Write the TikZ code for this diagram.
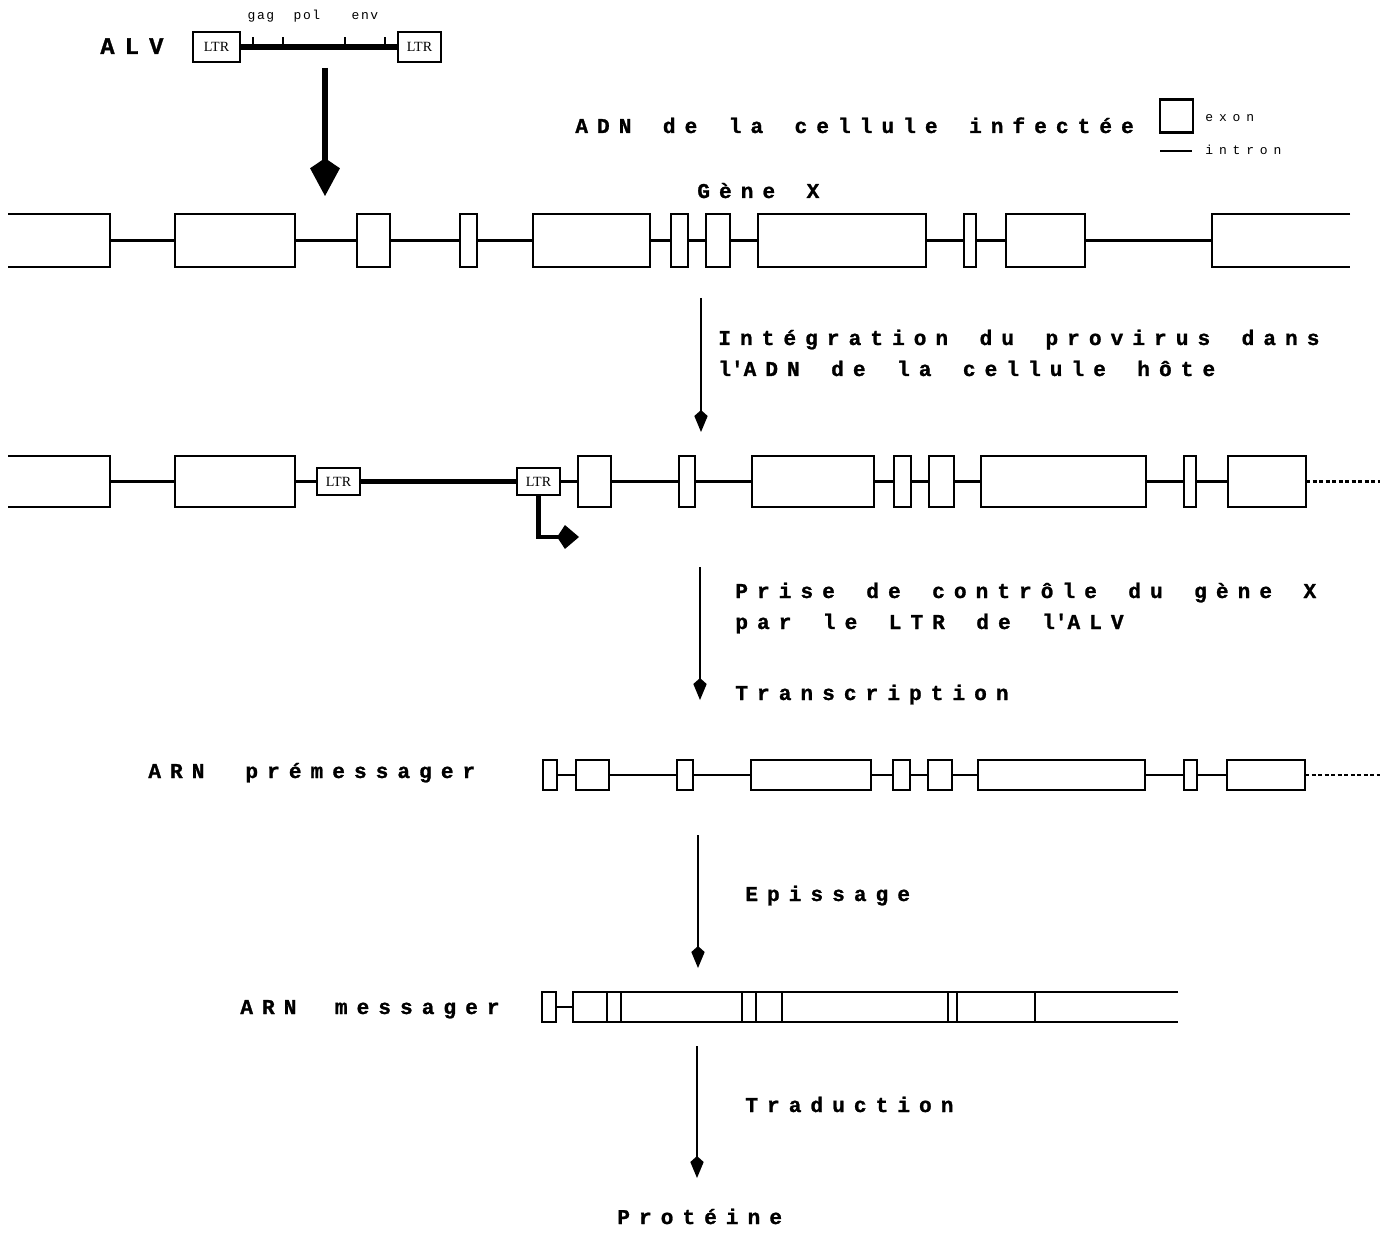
\documentclass[tikz,border=0pt]{standalone}
\usepackage{fontspec}
\usepackage{tikz}
\usetikzlibrary{positioning}
\usetikzlibrary{arrows.meta}
\newfontfamily\courgras{Liberation Mono Bold}[LetterSpace=43, WordSpace=1.45, FakeBold=1.2]
\newfontfamily\courfin{Liberation Mono}[LetterSpace=45]
\newfontfamily\courvir{Liberation Mono}[LetterSpace=12]
\newfontfamily\ltrserif{Liberation Serif}

\begin{document}
\begin{tikzpicture}[x=0.02cm, y=-0.02cm,
    exon/.style={draw, line width=1.6pt, inner sep=0pt, outer sep=0pt},
    bord/.style={line width=1.6pt},
    intron/.style={line width=1.3pt},
    virus/.style={line width=3.4pt},
    suite/.style={line width=1.3pt, dash pattern=on 2.5pt off 1.2pt},
    ltrbox/.style={draw, line width=1.3pt, inner sep=0pt, outer sep=0pt, font=\ltrserif\fontsize{8}{9}\selectfont},
    txt/.style={anchor=base west, inner sep=0pt, font=\courgras\fontsize{12}{13}\selectfont},
    petit/.style={anchor=base west, inner sep=0pt, font=\courfin\fontsize{7.4}{8}\selectfont},
    fleche/.style={line width=1.4pt, -{Kite[length=12.5pt, width=7.6pt, inset=3.4pt]}},
    grossefleche/.style={line width=3.8pt, -{Kite[length=21.5pt, width=17pt, inset=5.7pt]}},
    promo/.style={line width=2.8pt, -{Kite[length=12.5pt, width=13.6pt, inset=4.5pt]}}]
    \useasboundingbox (0,0) rectangle (1389,1236);

    \node[txt, font=\courgras\fontsize{13.5}{14}\selectfont] (alv) at (100,54) {ALV};
    \node[ltrbox, minimum width=47*0.02cm, minimum height=30*0.02cm] (av1) at (216.5,47) {LTR};
    \node[ltrbox, minimum width=43*0.02cm, minimum height=30*0.02cm] (av2) at (419.5,47) {LTR};
    \draw[virus] (av1.east) -- (av2.west);
    \foreach \t in {253,283,345,385}
        \draw[line width=1pt] (\t,46) -- (\t,37);
    \node[petit, anchor=base, font=\courvir\fontsize{7.4}{8}\selectfont] (gag) at (261,20) {gag};
    \node[petit, anchor=base, font=\courvir\fontsize{7.4}{8}\selectfont] (pol) at (307,20) {pol};
    \node[petit, anchor=base, font=\courvir\fontsize{7.4}{8}\selectfont] (env) at (365,20) {env};
    \coordinate (a0s) at (325,68);
    \coordinate (a0e) at (325,196);
    \draw[grossefleche] (a0s) -- (a0e);

    \node[txt] (titre) at (575,133) {ADN de la cellule infectée};
    \node[exon, minimum width=33*0.02cm, minimum height=33*0.02cm] (legexon) at (1176.5,116) {};
    \node[petit] (legexontxt) at (1205,122) {exon};
    \coordinate (legi1) at (1160,151);
    \coordinate (legi2) at (1192,151);
    \draw[intron] (legi1) -- (legi2);
    \node[petit] (legintrontxt) at (1205,155) {intron};
    \node[txt] (genex) at (697,198) {Gène X};

    \node[exon, draw=none, minimum width=102*0.02cm, minimum height=53*0.02cm] (g1) at (59,240.5) {};
    \foreach \i/\a/\b in {2/175/295, 3/357/390, 4/460/477, 5/533/650, 6/671/688, 7/706/730, 8/758/926, 9/964/976, 10/1006/1085}
        \node[exon, minimum width={(\b-\a)*0.02cm}, minimum height=53*0.02cm] (g\i) at ({(\a+\b)/2},240.5) {};
    \node[exon, draw=none, minimum width=138*0.02cm, minimum height=53*0.02cm] (g11) at (1281,240.5) {};
    \draw[bord] (g1.north west) -- (g1.north east) -- (g1.south east) -- (g1.south west);
    \draw[bord] (g11.north east) -- (g11.north west) -- (g11.south west) -- (g11.south east);
    \foreach \i [evaluate=\i as \j using int(\i+1)] in {1,...,10}
        \draw[intron] (g\i.east) -- (g\j.west);

    \coordinate (a1s) at (701,298);
    \coordinate (a1e) at (701,432);
    \draw[fleche] (a1s) -- (a1e);
    \node[txt] (integ1) at (718,345) {Intégration du provirus dans};
    \node[txt] (integ2) at (718,376) {l\textquotesingle ADN de la cellule hôte};

    \node[exon, draw=none, minimum width=102*0.02cm, minimum height=51*0.02cm] (p1) at (59,481.5) {};
    \node[exon, minimum width=120*0.02cm, minimum height=51*0.02cm] (p2) at (235,481.5) {};
    \node[ltrbox, minimum width=43*0.02cm, minimum height=27*0.02cm] (pl1) at (338.5,481.5) {LTR};
    \node[ltrbox, minimum width=43*0.02cm, minimum height=27*0.02cm] (pl2) at (538.5,481.5) {LTR};
    \foreach \i/\a/\b in {3/578/611, 4/679/695, 5/752/874, 6/894/911, 7/929/954, 8/981/1146, 9/1184/1196, 10/1228/1306}
        \node[exon, minimum width={(\b-\a)*0.02cm}, minimum height=51*0.02cm] (p\i) at ({(\a+\b)/2},481.5) {};
    \draw[bord] (p1.north west) -- (p1.north east) -- (p1.south east) -- (p1.south west);
    \draw[intron] (p1.east) -- (p2.west);
    \draw[intron] (p2.east) -- (pl1.west);
    \draw[virus] (pl1.east) -- (pl2.west);
    \draw[intron] (pl2.east) -- (p3.west);
    \foreach \i [evaluate=\i as \j using int(\i+1)] in {3,...,9}
        \draw[intron] (p\i.east) -- (p\j.west);
    \coordinate (pfin) at (1380,481.5);
    \draw[suite] (p10.east) -- (pfin);
    \coordinate (tss) at (579,537);
    \draw[promo] (pl2.south) |- (tss);

    \coordinate (a2s) at (700,567);
    \coordinate (a2e) at (700,700);
    \draw[fleche] (a2s) -- (a2e);
    \node[txt] (prise1) at (735,598) {Prise de contrôle du gène X};
    \node[txt] (prise2) at (735,629) {par le LTR de l\textquotesingle ALV};
    \node[txt] (transc) at (735,700) {Transcription};

    \node[txt] (premess) at (148,778) {ARN \hspace{0.19cm}prémessager};
    \foreach \i/\a/\b in {1/543/557, 2/576/609, 3/677/693, 4/751/871, 5/893/910, 6/928/952, 7/978/1145, 8/1184/1197, 9/1227/1305}
        \node[exon, minimum width={(\b-\a)*0.02cm}, minimum height=30*0.02cm] (m\i) at ({(\a+\b)/2},775) {};
    \foreach \i [evaluate=\i as \j using int(\i+1)] in {1,...,8}
        \draw[intron] (m\i.east) -- (m\j.west);
    \coordinate (mfin) at (1380,775);
    \draw[suite] (m9.east) -- (mfin);

    \coordinate (a3s) at (698,835);
    \coordinate (a3e) at (698,968);
    \draw[fleche] (a3s) -- (a3e);
    \node[txt] (episs) at (745,901) {Epissage};

    \node[txt] (mess) at (240,1014) {ARN \hspace{0.14cm}messager};
    \node[exon, minimum width=14*0.02cm, minimum height=30*0.02cm] (r0) at (549,1007) {};
    \node[exon, draw=none, minimum width=605*0.02cm, minimum height=30*0.02cm] (rband) at (875.5,1007) {};
    \draw[bord] (rband.north east) -- (rband.north west) -- (rband.south west) -- (rband.south east);
    \draw[intron] (r0.east) -- (rband.west);
    \foreach \s in {607,621,742,756,782,948,957,1035}
        \draw[bord] (\s,992) -- (\s,1022);

    \coordinate (a4s) at (697,1046);
    \coordinate (a4e) at (697,1178);
    \draw[fleche] (a4s) -- (a4e);
    \node[txt] (trad) at (745,1112) {Traduction};
    \node[txt] (prot) at (617,1224) {Protéine};
\end{tikzpicture}
\end{document}
